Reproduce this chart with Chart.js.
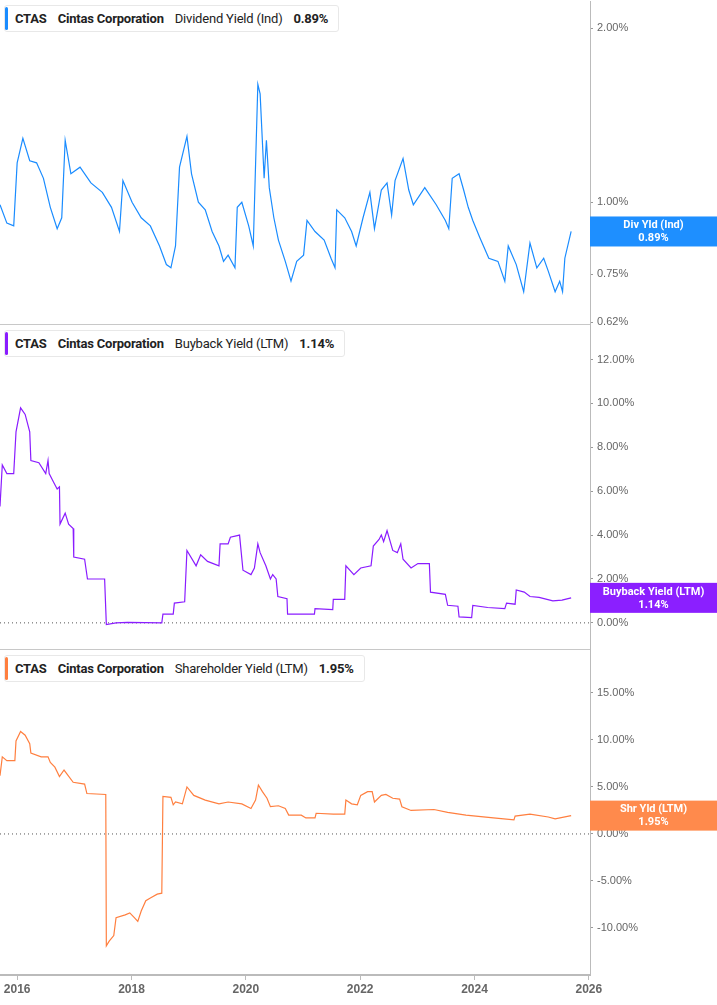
<!DOCTYPE html>
<html>
<head>
<meta charset="utf-8">
<script src="https://cdn.jsdelivr.net/npm/chart.js@4"></script>
<style>
  body { margin: 0; background: #fff; font-family: Roboto, "Noto Sans", sans-serif; }
  #wrap { position: relative; width: 717px; height: 1005px; overflow: hidden; }
  .panel { position: absolute; left: 0; width: 717px; }
  .legend {
    position: absolute; left: 4px; height: 25px; background: #fff;
    border: 1px solid #e8e8e8; border-radius: 3px; font-size: 13px; color: #222;
    display: flex; align-items: center; padding: 0 10px 0 10px; white-space: nowrap;
    letter-spacing: -0.2px;
  }
  .legend .bar { position: absolute; left: 0; top: 1px; bottom: 1px; width: 3px; border-radius: 2px; }
  .legend b { font-weight: 700; }
  .legend span { margin-right: 11px; }
  .sep { position: absolute; left: 0; width: 590px; height: 1px; background: #c8c8c8; }
</style>
</head>
<body>
<div id="wrap">
  <div class="panel" style="top:-9px;height:350px"><canvas id="c1"></canvas></div>
  <div class="panel" style="top:316px;height:346px"><canvas id="c2"></canvas></div>
  <div class="panel" style="top:640px;height:366px"><canvas id="c3"></canvas></div>
  <div class="sep" style="top:324px"></div>
  <div class="sep" style="top:649px"></div>
  <div class="legend" style="top:5px"><div class="bar" style="background:#1a8cff"></div>
    <span><b>CTAS</b></span><span><b>Cintas Corporation</b></span><span>Dividend Yield (Ind)</span><b>0.89%</b></div>
  <div class="legend" style="top:330px"><div class="bar" style="background:#8a1cff"></div>
    <span><b>CTAS</b></span><span><b>Cintas Corporation</b></span><span>Buyback Yield (LTM)</span><b>1.14%</b></div>
  <div class="legend" style="top:655px"><div class="bar" style="background:#ff7f3f"></div>
    <span><b>CTAS</b></span><span><b>Cintas Corporation</b></span><span>Shareholder Yield (LTM)</span><b>1.95%</b></div>
</div>
<script>
// x range (decimal years)
const xMin = 2015.70;
const xMax = 2026.02;
const yearTicks = [2016, 2018, 2020, 2022, 2024, 2026];

// Dividend Yield (Ind), %
const divYears = [2015.70, 2015.82, 2015.94, 2016.0, 2016.10, 2016.22, 2016.34, 2016.46, 2016.58, 2016.70, 2016.78, 2016.84, 2016.94, 2017.10, 2017.29, 2017.49, 2017.65, 2017.79, 2017.85, 2018.01, 2018.17, 2018.33, 2018.49, 2018.61, 2018.69, 2018.77, 2018.84, 2018.97, 2019.05, 2019.17, 2019.29, 2019.41, 2019.53, 2019.61, 2019.69, 2019.81, 2019.85, 2019.93, 2020.05, 2020.13, 2020.21, 2020.25, 2020.32, 2020.36, 2020.41, 2020.49, 2020.57, 2020.69, 2020.79, 2020.89, 2021.01, 2021.07, 2021.21, 2021.37, 2021.49, 2021.56, 2021.59, 2021.73, 2021.85, 2021.93, 2022.05, 2022.17, 2022.25, 2022.37, 2022.47, 2022.55, 2022.61, 2022.75, 2022.85, 2022.93, 2023.13, 2023.33, 2023.49, 2023.55, 2023.61, 2023.73, 2023.81, 2023.89, 2023.97, 2024.09, 2024.25, 2024.41, 2024.53, 2024.59, 2024.73, 2024.86, 2024.97, 2025.09, 2025.21, 2025.29, 2025.41, 2025.49, 2025.54, 2025.58, 2025.69];
const divValues = [0.99, 0.92, 0.91, 1.17, 1.29, 1.18, 1.17, 1.10, 0.98, 0.90, 0.94, 1.28, 1.12, 1.15, 1.08, 1.04, 0.98, 0.89, 1.09, 1.00, 0.94, 0.91, 0.84, 0.78, 0.77, 0.84, 1.15, 1.30, 1.12, 1.00, 0.97, 0.89, 0.84, 0.79, 0.81, 0.77, 0.98, 1.00, 0.91, 0.84, 1.60, 1.54, 1.10, 1.28, 1.06, 0.94, 0.86, 0.79, 0.73, 0.79, 0.81, 0.93, 0.89, 0.86, 0.80, 0.77, 0.97, 0.94, 0.89, 0.84, 0.94, 1.04, 0.90, 1.05, 1.08, 0.95, 1.09, 1.19, 1.05, 0.99, 1.06, 0.99, 0.93, 0.90, 1.10, 1.12, 1.05, 0.98, 0.93, 0.87, 0.80, 0.79, 0.73, 0.84, 0.78, 0.70, 0.85, 0.77, 0.80, 0.76, 0.70, 0.73, 0.70, 0.80, 0.89];
const divTicks = [0.62, 0.75, 0.88, 1.0, 2.0];

// Buyback Yield (LTM), %
const bbYears = [2015.70, 2015.74, 2015.82, 2015.94, 2015.98, 2016.06, 2016.14, 2016.22, 2016.24, 2016.38, 2016.50, 2016.54, 2016.56, 2016.64, 2016.70, 2016.74, 2016.75, 2016.84, 2016.90, 2016.98, 2016.99, 2017.18, 2017.23, 2017.53, 2017.56, 2017.73, 2017.93, 2018.53, 2018.55, 2018.73, 2018.75, 2018.93, 2018.97, 2019.13, 2019.21, 2019.33, 2019.53, 2019.55, 2019.69, 2019.73, 2019.89, 2019.95, 2020.09, 2020.15, 2020.21, 2020.25, 2020.35, 2020.43, 2020.47, 2020.53, 2020.56, 2020.72, 2020.73, 2021.20, 2021.21, 2021.52, 2021.53, 2021.73, 2021.75, 2021.89, 2022.01, 2022.19, 2022.23, 2022.33, 2022.37, 2022.41, 2022.47, 2022.57, 2022.65, 2022.71, 2022.75, 2022.89, 2023.01, 2023.21, 2023.23, 2023.49, 2023.53, 2023.71, 2023.73, 2023.95, 2023.97, 2024.23, 2024.53, 2024.56, 2024.71, 2024.73, 2024.87, 2024.97, 2025.13, 2025.37, 2025.53, 2025.69];
const bbValues = [5.3, 7.2, 6.8, 6.8, 8.7, 9.8, 9.5, 8.7, 7.4, 7.3, 6.8, 7.4, 6.8, 6.4, 6.1, 6.2, 4.5, 5.0, 4.5, 4.3, 3.0, 2.9, 2.0, 2.0, -0.08, 0.0, 0.02, 0.0, 0.4, 0.4, 0.9, 0.96, 3.3, 2.6, 3.1, 2.8, 2.6, 3.6, 3.6, 3.9, 4.0, 2.4, 2.2, 2.5, 3.6, 3.2, 2.6, 2.0, 2.2, 2.0, 1.2, 1.1, 0.4, 0.4, 0.65, 0.6, 1.07, 1.07, 2.6, 2.2, 2.5, 2.6, 3.5, 3.8, 4.0, 3.7, 4.2, 3.3, 3.2, 3.6, 2.9, 2.5, 2.7, 2.7, 1.4, 1.3, 0.8, 0.76, 0.27, 0.24, 0.8, 0.7, 0.65, 0.9, 0.85, 1.5, 1.4, 1.2, 1.16, 1.0, 1.04, 1.14];

// Shareholder Yield (LTM), %
const shYears = [2015.70, 2015.74, 2015.82, 2015.96, 2015.98, 2016.06, 2016.14, 2016.22, 2016.24, 2016.42, 2016.54, 2016.58, 2016.66, 2016.74, 2016.82, 2016.98, 2017.18, 2017.22, 2017.55, 2017.56, 2017.61, 2017.69, 2017.73, 2017.89, 2017.97, 2018.05, 2018.11, 2018.17, 2018.25, 2018.33, 2018.45, 2018.53, 2018.55, 2018.69, 2018.73, 2018.77, 2018.89, 2018.97, 2019.09, 2019.29, 2019.53, 2019.69, 2019.93, 2020.09, 2020.17, 2020.22, 2020.29, 2020.37, 2020.43, 2020.57, 2020.69, 2020.75, 2020.97, 2021.05, 2021.21, 2021.23, 2021.53, 2021.73, 2021.75, 2021.85, 2021.95, 2022.01, 2022.13, 2022.21, 2022.25, 2022.37, 2022.45, 2022.57, 2022.69, 2022.73, 2022.89, 2023.29, 2023.53, 2023.85, 2024.33, 2024.69, 2024.71, 2024.97, 2025.29, 2025.41, 2025.69];
const shValues = [6.2, 8.2, 7.8, 7.8, 9.9, 10.9, 10.5, 9.6, 8.6, 8.2, 8.2, 7.6, 7.1, 6.1, 6.8, 5.5, 5.3, 4.3, 4.2, -11.9, -11.4, -10.8, -8.9, -8.6, -8.4, -8.9, -9.3, -8.2, -7.1, -6.8, -6.4, -6.3, 4.0, 3.9, 3.1, 3.4, 3.2, 5.0, 4.1, 3.6, 3.2, 3.4, 3.2, 2.7, 3.6, 5.2, 4.5, 3.8, 2.9, 3.0, 2.7, 2.0, 2.0, 1.7, 1.7, 2.2, 2.1, 2.1, 3.6, 3.2, 3.1, 4.1, 4.5, 4.5, 3.4, 4.1, 4.2, 3.8, 3.7, 2.9, 2.5, 2.6, 2.3, 2.0, 1.7, 1.5, 1.9, 2.1, 1.8, 1.6, 1.95];

const zip = (xs, ys) => xs.map((x, i) => ({ x: x, y: ys[i] }));
const pct = (v) => Number(v).toFixed(2) + "%";

// colored value box on the right axis
const valueBox = {
  id: "valueBox",
  afterDraw(chart, args, opts) {
    const ctx = chart.ctx;
    const y = chart.scales.y.getPixelForValue(opts.value);
    const left = chart.chartArea.right;
    ctx.save();
    ctx.fillStyle = opts.color;
    ctx.fillRect(left, y - 15, chart.width - left, 30);
    ctx.fillStyle = "#fff";
    ctx.font = "bold 11px Roboto";
    ctx.textAlign = "center";
    ctx.textBaseline = "middle";
    const cx = left + (chart.width - left) / 2;
    ctx.fillText(opts.title, cx, y - 6);
    ctx.fillText(pct(opts.value), cx, y + 7);
    ctx.restore();
  },
};

function makeChart(id, cfg) {
  const showX = !!cfg.showX;
  const datasets = [
    {
      data: zip(cfg.years, cfg.values),
      borderColor: cfg.color,
      borderWidth: 1.2,
      pointRadius: 0,
      tension: 0,
    },
  ];
  if (cfg.zero) {
    datasets.push({
      data: [{ x: xMin, y: 0 }, { x: xMax, y: 0 }],
      borderColor: "#555",
      borderWidth: 1,
      borderDash: [1, 3],
      pointRadius: 0,
    });
  }
  return new Chart(document.getElementById(id), {
    type: "line",
    data: { datasets: datasets },
    options: {
      responsive: true,
      maintainAspectRatio: false,
      animation: false,
      layout: { padding: cfg.padding },
      plugins: {
        legend: { display: false },
        tooltip: { enabled: false },
        valueBox: { value: cfg.values[cfg.values.length - 1], color: cfg.boxColor, title: cfg.title },
      },
      scales: {
        x: {
          type: "linear",
          min: xMin,
          max: xMax,
          display: showX,
          afterBuildTicks: (s) => { s.ticks = yearTicks.map((v) => ({ value: v })); },
          afterFit: (s) => { if (showX) s.height = 31; },
          grid: { drawOnChartArea: false, tickLength: 5, color: "#bbb" },
          border: { color: "#bbb", width: 2 },
          ticks: {
            color: "#666",
            font: { size: 12, weight: "bold" },
            padding: 2,
            maxRotation: 0,
            callback: (v) => String(v),
          },
        },
        y: {
          type: cfg.log ? "logarithmic" : "linear",
          position: "right",
          min: cfg.min,
          max: cfg.max,
          afterBuildTicks: (s) => { s.ticks = cfg.ticks.map((v) => ({ value: v })); },
          afterFit: (s) => { s.width = 127; },
          grid: { drawOnChartArea: false, tickLength: 3, color: "#999" },
          border: { color: "#bbb" },
          ticks: { color: "#666", font: { size: 11 }, padding: 4, callback: (v) => pct(v) },
        },
      },
    },
    plugins: [valueBox],
  });
}

makeChart("c1", {
  years: divYears, values: divValues, color: "#1a8cff", boxColor: "#1e8fff",
  title: "Div Yld (Ind)", log: true, min: 0.62, max: 2.225, ticks: divTicks,
  padding: { top: -7, bottom: -5 },
});
makeChart("c2", {
  years: bbYears, values: bbValues, color: "#8a1cff", boxColor: "#8b1fff",
  title: "Buyback Yield (LTM)", min: -1.3, max: 13.5, ticks: [0, 2, 4, 6, 8, 10, 12], zero: true,
  padding: { top: -7, bottom: -7 },
});
makeChart("c3", {
  years: shYears, values: shValues, color: "#ff7f3f", boxColor: "#ff8a4c",
  title: "Shr Yld (LTM)", min: -15, max: 19.5, ticks: [-10, -5, 0, 5, 10, 15], zero: true, showX: true,
  padding: { top: -7 },
});
</script>
</body>
</html>
